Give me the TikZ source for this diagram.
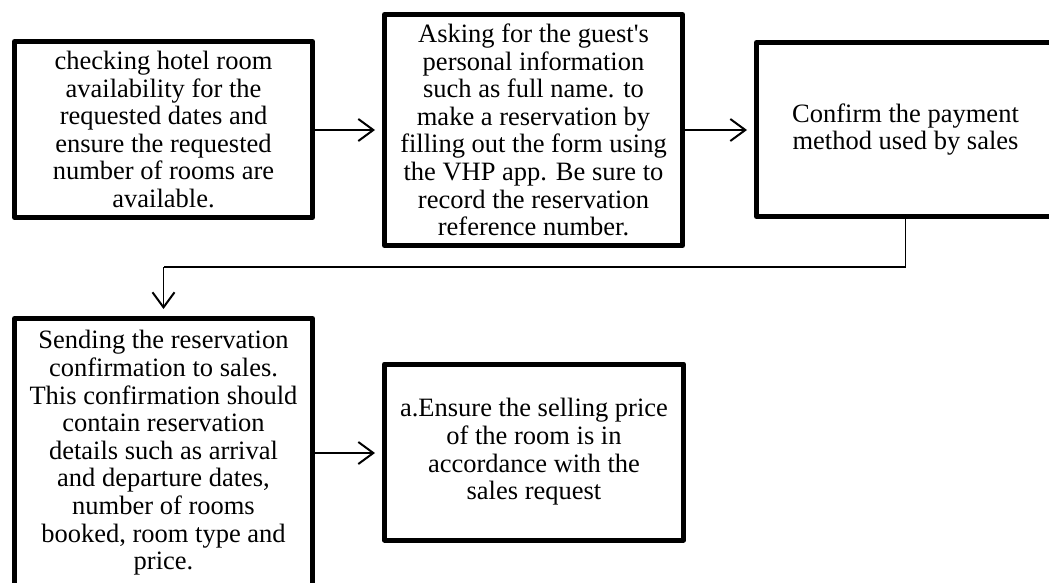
\documentclass[tikz,border=0pt]{standalone}
\usepackage{fontspec}
\setmainfont{Liberation Serif}
\usetikzlibrary{arrows.meta}
\begin{document}
\begin{tikzpicture}[x=1pt,y=-1pt,
  box/.style={draw=black, line width=5pt, rectangle, minimum width=298pt, align=center,
    inner sep=0pt, font=\fontsize{26.5}{27.6}\selectfont, line join=round},
  conn/.style={draw=black, line width=1.8pt, -{Straight Barb[length=15pt,width=22pt,line width=2pt]}, shorten >=7pt},
  link/.style={draw=black, line width=1.8pt}]
\useasboundingbox (0,0) rectangle (1049,583);
\clip (0,0) rectangle (1049,583);
\fill[white] (0,0) rectangle (1049,583);
\node[box, minimum height=176pt] (b1) at (163.5,129.5) {checking hotel room\\availability for the\\requested dates and\\ensure the requested\\number of rooms are\\available.};
\node[box, minimum height=231pt] (b2) at (533.5,130) {Asking for the guest\textquotesingle s\\personal information\\such as full name. to\\make a reservation by\\filling out the form using\\the VHP app. Be sure to\\record the reservation\\reference number.};
\node[box, minimum height=174pt] (b3) at (905.5,129.5) {Confirm the payment\\method used by sales};
\node[box, minimum height=269pt] (b4) at (163.5,453) {Sending the reservation\\confirmation to sales.\\This confirmation should\\contain reservation\\details such as arrival\\and departure dates,\\number of rooms\\booked, room type and\\price.};
\node[box, minimum width=299pt, minimum height=176pt] (b5) at (534,452) {a.Ensure the selling price\\of the room is in\\accordance with the\\sales request};
\coordinate (c1) at (b3.south |- 0,267);
\coordinate (c2) at (b4.north |- 0,267);
\draw[conn] (b1.east |- 0,130) -- (b2.west |- 0,130);
\draw[conn] (b2.east |- 0,130) -- (b3.west |- 0,130);
\draw[link] (b3.south) -- (c1) -- (c2);
\draw[conn] (c2) -- (b4.north);
\draw[conn] (b4.east |- 0,453) -- (b5.west |- 0,453);
\end{tikzpicture}
\end{document}
